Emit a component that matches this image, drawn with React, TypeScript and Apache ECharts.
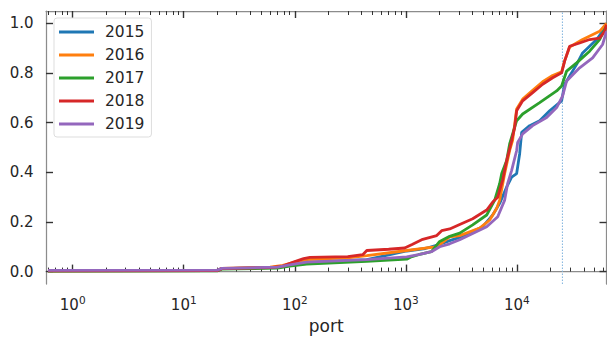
import React, { useEffect, useRef } from "react";
import * as echarts from "echarts";

const years = ["2015", "2016", "2017", "2018", "2019"];
const colors = ["#1f77b4", "#ff7f0e", "#2ca02c", "#d62728", "#9467bd"];

const s2015: [number, number][] = [
  [0.6, 0.003], [20, 0.004], [22, 0.012], [70, 0.017], [90, 0.025], [128, 0.037],
  [445, 0.048], [1018, 0.083], [1500, 0.093], [2018, 0.11], [2483, 0.125], [3055, 0.138],
  [4920, 0.181], [6057, 0.228], [7000, 0.275], [8090, 0.341], [8970, 0.381], [9950, 0.395],
  [10590, 0.475], [11040, 0.561], [13030, 0.588], [16030, 0.608], [19720, 0.648],
  [25280, 0.688], [26920, 0.755], [34510, 0.835], [39060, 0.881], [52220, 0.935], [64100, 0.99],
];
const s2016: [number, number][] = [
  [0.6, 0.003], [20, 0.004], [22, 0.013], [60, 0.018], [78, 0.025], [100, 0.038], [128, 0.048],
  [300, 0.055], [445, 0.064], [1018, 0.085], [1500, 0.095], [1897, 0.1], [2483, 0.14],
  [3055, 0.145], [4624, 0.175], [5690, 0.208], [6580, 0.255], [7000, 0.288], [7760, 0.395],
  [8610, 0.488], [9160, 0.53], [9950, 0.655], [11270, 0.695], [13870, 0.73], [17060, 0.765],
  [20990, 0.79], [25280, 0.805], [26920, 0.85], [29850, 0.905], [39060, 0.935],
  [55560, 0.968], [64100, 1.0],
];
const s2017: [number, number][] = [
  [0.6, 0.002], [20, 0.003], [22, 0.01], [70, 0.014], [90, 0.022], [128, 0.03], [445, 0.041],
  [1018, 0.05], [1100, 0.058], [1300, 0.068], [1700, 0.08], [2000, 0.12], [2483, 0.142],
  [3055, 0.155], [4000, 0.188], [5346, 0.228], [6313, 0.288], [7000, 0.355], [7300, 0.395],
  [8090, 0.448], [8610, 0.515], [9950, 0.608], [11270, 0.635], [16030, 0.681], [22800, 0.728],
  [25280, 0.748], [28050, 0.808], [34510, 0.841], [45170, 0.888], [55560, 0.935], [64100, 0.99],
];
const s2018: [number, number][] = [
  [0.6, 0.003], [20, 0.004], [22, 0.012], [60, 0.016], [78, 0.022], [100, 0.04], [120, 0.052],
  [137, 0.057], [300, 0.06], [409, 0.068], [445, 0.085], [700, 0.09], [977, 0.095],
  [1150, 0.11], [1419, 0.13], [1897, 0.145], [2102, 0.165], [2483, 0.172], [3055, 0.19],
  [4000, 0.213], [5346, 0.248], [6057, 0.28], [6720, 0.3], [7450, 0.37], [8090, 0.448],
  [8970, 0.528], [9550, 0.581], [9950, 0.648], [11270, 0.688], [13870, 0.721], [17060, 0.755],
  [20990, 0.781], [25280, 0.801], [26920, 0.848], [29850, 0.908], [36720, 0.921],
  [45170, 0.935], [55560, 0.941], [61670, 0.968], [64100, 0.995],
];
const s2019: [number, number][] = [
  [0.6, 0.005], [20, 0.006], [22, 0.013], [70, 0.018], [90, 0.027], [128, 0.038], [445, 0.048],
  [1018, 0.059], [1300, 0.068], [1700, 0.08], [2018, 0.1], [2483, 0.112], [3055, 0.128],
  [5346, 0.181], [6720, 0.221], [7760, 0.288], [8260, 0.355], [8970, 0.408], [9950, 0.488],
  [10160, 0.52], [11270, 0.555], [13870, 0.588], [18530, 0.621], [22800, 0.661],
  [25820, 0.708], [28050, 0.768], [36720, 0.821], [48070, 0.861], [59130, 0.915], [64100, 0.968],
];
const seriesData = [s2015, s2016, s2017, s2018, s2019];

const xMin = 0.575;
const xMax = 64100;
const vLinePort = 25700;
const yMin = -0.05;
const yMax = 1.05;
const xMajor = [1, 10, 100, 1000, 10000];
const xMinor: number[] = [];
for (let k = -1; k <= 4; k++) {
  for (let m = 2; m <= 9; m++) {
    const v = m * Math.pow(10, k);
    if (v >= xMin && v <= xMax) xMinor.push(v);
  }
}
const yTicks = [0, 0.2, 0.4, 0.6, 0.8, 1.0];

const FONT = "DejaVu Sans";
const TXT = "#262626";
const SPINE = "#8c8c8c";
const TICK = "#333333";

export default function App() {
  const ref = useRef<HTMLDivElement>(null);
  useEffect(() => {
    if (!ref.current) return;
    const chart = echarts.init(ref.current, null, { renderer: "svg" });
    const baseX = {
      type: "log" as const,
      logBase: 10,
      min: xMin,
      max: xMax,
      splitLine: { show: false },
      minorTick: { show: false },
    };
    const lineSeries = years.map((y, i) => ({
      name: y,
      type: "line",
      xAxisIndex: 0,
      yAxisIndex: 0,
      data: seriesData[i],
      symbol: "none",
      showSymbol: false,
      color: colors[i],
      itemStyle: { color: colors[i] },
      lineStyle: { color: colors[i], width: 2.8 },
      z: 3 + i,
    }));
    chart.setOption({
      animation: false,
      backgroundColor: "#ffffff",
      textStyle: { fontFamily: FONT },
      grid: { left: 46, top: 11, right: 0.5, bottom: 53, containLabel: false, outerBoundsMode: "none" },
      legend: {
        orient: "vertical",
        left: 54,
        top: 18,
        padding: [6, 7, 5, 5],
        icon: "rect",
        itemWidth: 35,
        itemHeight: 3,
        itemGap: 7,
        backgroundColor: "rgba(255,255,255,0.8)",
        borderColor: "#dddddd",
        borderWidth: 1,
        borderRadius: 3,
        textStyle: { fontSize: 15.5, lineHeight: 16, color: TXT, fontFamily: FONT, padding: [0, 0, 0, 6] },
        data: years,
      },
      xAxis: [
        {
          ...baseX,
          position: "bottom",
          axisLine: { show: true, lineStyle: { color: SPINE, width: 1.25 } },
          axisTick: { show: true, inside: true, length: 7, lineStyle: { color: TICK, width: 1.4 }, customValues: xMajor },
          axisLabel: {
            show: true,
            margin: 10,
            customValues: xMajor,
            formatter: (v: number) => `{b|10}{s|${Math.round(Math.log10(v))}}`,
            rich: {
              b: { fontSize: 15, fontFamily: FONT, color: TXT, lineHeight: 18, verticalAlign: "bottom" },
              s: { fontSize: 10.5, fontFamily: FONT, color: TXT, lineHeight: 10, verticalAlign: "top" },
            },
          },
          name: "port",
          nameLocation: "middle",
          nameGap: 33,
          nameTextStyle: { fontSize: 17, color: TXT, fontFamily: FONT },
        },
        {
          ...baseX,
          position: "bottom",
          axisLine: { show: false },
          axisTick: { show: true, inside: true, length: 4, lineStyle: { color: TICK, width: 1 }, customValues: xMinor },
          axisLabel: { show: false },
        },
        {
          ...baseX,
          position: "top",
          axisLine: { show: true, lineStyle: { color: SPINE, width: 1.25 } },
          axisTick: { show: true, inside: true, length: 7, lineStyle: { color: TICK, width: 1.4 }, customValues: xMajor },
          axisLabel: { show: false },
        },
        {
          ...baseX,
          position: "top",
          axisLine: { show: false },
          axisTick: { show: true, inside: true, length: 4, lineStyle: { color: TICK, width: 1 }, customValues: xMinor },
          axisLabel: { show: false },
        },
      ],
      yAxis: [
        {
          type: "value",
          min: yMin,
          max: yMax,
          position: "left",
          splitLine: { show: false },
          axisLine: { show: true, lineStyle: { color: SPINE, width: 1.25 } },
          axisTick: { show: true, inside: true, length: 7, lineStyle: { color: TICK, width: 1.4 }, customValues: yTicks },
          axisLabel: {
            show: true,
            margin: 12.5,
            customValues: yTicks,
            formatter: (v: number) => v.toFixed(1),
            fontSize: 15,
            color: TXT,
            fontFamily: FONT,
          },
        },
        {
          type: "value",
          min: yMin,
          max: yMax,
          position: "right",
          splitLine: { show: false },
          axisLine: { show: true, lineStyle: { color: SPINE, width: 1.25 } },
          axisTick: { show: true, inside: true, length: 7, lineStyle: { color: TICK, width: 1.4 }, customValues: yTicks },
          axisLabel: { show: false },
        },
      ],
      series: [
        {
          name: "threshold",
          type: "line",
          xAxisIndex: 0,
          yAxisIndex: 0,
          data: [
            [vLinePort, yMin],
            [vLinePort, yMax],
          ],
          symbol: "none",
          showSymbol: false,
          silent: true,
          color: "#8fbbe0",
          lineStyle: { color: "#7fb3dd", width: 1, type: [1.5, 1.5] },
          z: 2,
        },
        ...lineSeries,
      ],
    });
    return () => chart.dispose();
  }, []);
  return <div ref={ref} style={{ position: "fixed", left: 0, top: 0, width: 607, height: 337 }} />;
}
